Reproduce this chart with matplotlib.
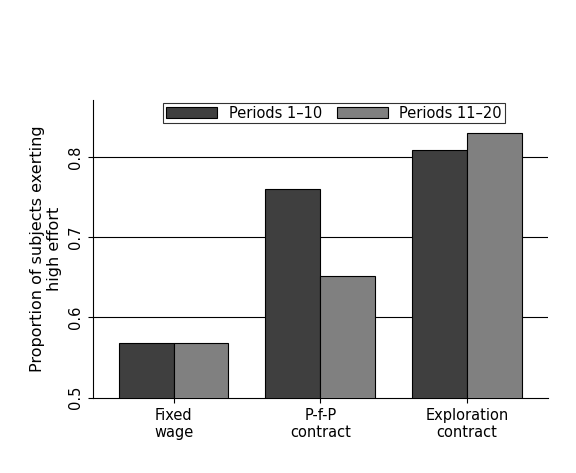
import matplotlib
matplotlib.use("Agg")
import matplotlib.pyplot as plt
import numpy as np

categories = ["Fixed\nwage", "P-f-P\ncontract", "Exploration\ncontract"]
periods_1_10 = [0.568, 0.760, 0.809]
periods_11_20 = [0.568, 0.652, 0.830]
yticks = [0.5, 0.6, 0.7, 0.8]

fig = plt.figure(figsize=(5.76, 4.73), dpi=100)
ax = fig.add_axes([0.161, 0.159, 0.79, 0.63])
x = np.arange(1, 4)
w = 0.374
ax.bar(x - w/2, periods_1_10, w, bottom=0, color="#3f3f3f", edgecolor="black", linewidth=0.8, label="Periods 1\u201310", zorder=3)
ax.bar(x + w/2, periods_11_20, w, color="#808080", edgecolor="black", linewidth=0.8, label="Periods 11\u201320", zorder=3)
ax.set_ylim(0.5, 0.871)
ax.set_xlim(0.449, 3.551)
ax.set_yticks(yticks)
ax.set_yticklabels([f"{v:.1f}" for v in yticks], rotation=90, va="center")
ax.set_xticks(x)
ax.set_xticklabels(categories, fontsize=10.5)
for v in yticks[1:]:
    ax.axhline(v, color="black", linewidth=0.8, zorder=1)
for s in ["top", "right"]:
    ax.spines[s].set_visible(False)
ax.set_ylabel("Proportion of subjects exerting\nhigh effort", fontsize=11.5)
ax.tick_params(labelsize=10.5)
leg = ax.legend(loc="upper center", bbox_to_anchor=(0.53, 1.015), ncol=2, frameon=True, fancybox=False,
                edgecolor="black", fontsize=10.5, handlelength=3.5, borderpad=0.2, columnspacing=1.0)
leg.get_frame().set_linewidth(0.8)
fig.savefig("out.png", dpi=100)
